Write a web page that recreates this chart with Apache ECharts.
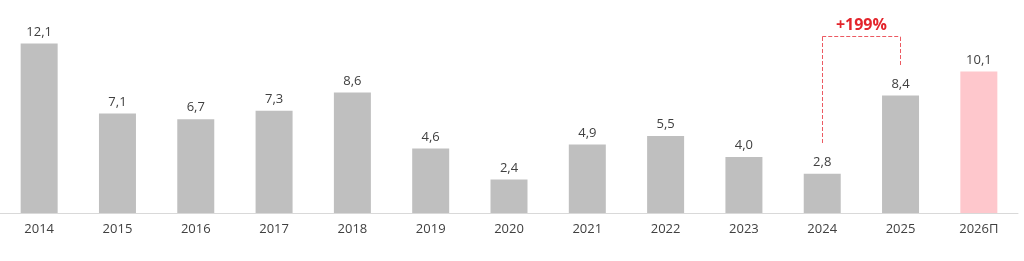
<!DOCTYPE html>
<html><head><meta charset="utf-8">
<script src="https://cdn.jsdelivr.net/npm/echarts@6/dist/echarts.min.js"></script>
<style>html,body{margin:0;padding:0;background:#fff}#c{width:1024px;height:261px}</style>
</head><body><div id="c"></div>
<script>
const categories = ['2014','2015','2016','2017','2018','2019','2020','2021','2022','2023','2024','2025','2026П'];
const values = [12.1, 7.1, 6.7, 7.3, 8.6, 4.6, 2.4, 4.9, 5.5, 4.0, 2.8, 8.4, 10.1];
const forecastIndex = 12;
const growthLabel = '+199%';
const growthFrom = '2024', growthTo = '2025';
const bracketY = 12.64, bracketFromBottom = 5.0, bracketToBottom = 10.57;

const chart = echarts.init(document.getElementById('c'), null, {renderer:'canvas'});
const font = '"Open Sans", Lato, sans-serif';
const red = '#e3242b';
const dash = {type:'dashed', color:'#ec5a62', width:1, dashOffset:0};
chart.setOption({
  animation:false,
  grid:{left:0, right:6, top:17, bottom:48, containLabel:false},
  xAxis:{type:'category', data:categories,
    axisLine:{lineStyle:{color:'#d9d9d9'}}, axisTick:{show:false},
    axisLabel:{color:'#404040', fontSize:13, fontFamily:font, margin:10}},
  yAxis:{type:'value', min:0, max:14, show:false, splitLine:{show:false}},
  series:[{
    type:'bar', barWidth:37,
    data: values.map((v,i)=>({value:v, itemStyle:{color: i===forecastIndex ? '#fec7cc' : '#bfbfbf'}})),
    label:{show:true, position:'top', distance:5, color:'#404040', fontSize:13, fontFamily:font,
      formatter:p=>String(p.value.toFixed(1)).replace('.',',')},
    markLine:{silent:true, symbol:['none','none'], lineStyle:dash,
      label:{show:false},
      data:[
        [{coord:[growthFrom,bracketFromBottom]},{coord:[growthFrom,bracketY]}],
        [{coord:[growthTo,bracketToBottom]},{coord:[growthTo,bracketY]}],
        [{coord:[growthFrom,bracketY], label:{show:true, position:'middle', formatter:growthLabel, color:red, fontSize:16, fontWeight:'bold', fontFamily:font, distance:3}},{coord:[growthTo,bracketY]}]
      ]}
  }]
});
</script></body></html>
